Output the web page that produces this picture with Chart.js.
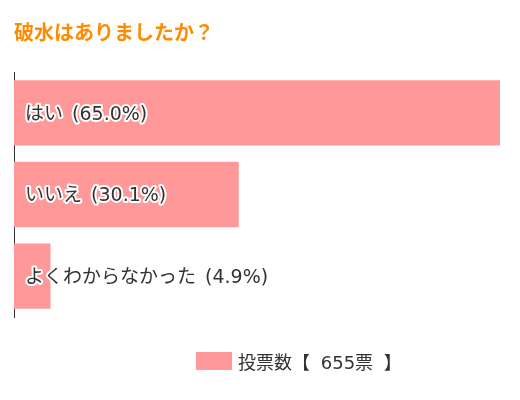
<!DOCTYPE html>
<html>
<head>
<meta charset="utf-8">
<script src="https://cdn.jsdelivr.net/npm/chart.js@4/dist/chart.umd.min.js"></script>
<style>
  html, body { margin: 0; padding: 0; background: #fff; }
  #wrap { position: relative; width: 520px; height: 400px; }
  #legend {
    position: absolute; left: 196px; top: 349px; height: 24px;
    display: flex; align-items: center;
    font: 18px "DejaVu Sans", "Noto Sans CJK JP", sans-serif; color: #333;
    word-spacing: 5px; white-space: pre;
  }
  #legend .box { width: 36px; height: 18px; background: #ff9999; margin-right: 6px; }
</style>
</head>
<body>
<div id="wrap">
  <canvas id="chart" width="520" height="400"></canvas>
  <div id="legend"><span class="box"></span><span id="legend-text"></span></div>
</div>
<script>
// 破水はありましたか？ - 投票結果
const answers = ['はい', 'いいえ', 'よくわからなかった'];
const votes = [426, 197, 32];
const percents = ['65.0', '30.1', '4.9'];
const totalVotes = 655;

const barColor = '#ff9999';

document.getElementById('legend-text').textContent = '投票数【 ' + totalVotes + '票 】';

// draw the answer text inside each bar
const barLabels = {
  id: 'barLabels',
  afterDatasetsDraw(chart) {
    const { ctx, chartArea } = chart;
    const meta = chart.getDatasetMeta(0);
    ctx.save();
    ctx.font = '19px "DejaVu Sans", "Noto Sans CJK JP", sans-serif';
    ctx.wordSpacing = '3px';
    ctx.textBaseline = 'middle';
    ctx.textAlign = 'left';
    ctx.lineJoin = 'round';
    ctx.lineWidth = 4;
    ctx.strokeStyle = '#fff';
    ctx.fillStyle = '#333';
    meta.data.forEach((bar, i) => {
      const text = answers[i] + ' (' + percents[i] + '%)';
      const x = chartArea.left + 11;
      ctx.strokeText(text, x, bar.y + 2);
      ctx.fillText(text, x, bar.y + 2);
    });
    ctx.restore();
  }
};

new Chart(document.getElementById('chart'), {
  type: 'bar',
  data: {
    labels: answers,
    datasets: [{
      label: '投票数',
      data: votes,
      backgroundColor: barColor,
      borderWidth: 0,
      barPercentage: 0.8,
      categoryPercentage: 1,
    }]
  },
  options: {
    indexAxis: 'y',
    responsive: false,
    animation: false,
    layout: { padding: { left: 14, right: 20, top: 0, bottom: 83 } },
    plugins: {
      legend: { display: false },
      tooltip: { enabled: false },
      title: {
        display: true,
        text: '破水はありましたか？',
        align: 'start',
        color: '#ff8c00',
        font: { family: '"Noto Sans CJK JP", sans-serif', size: 20, weight: 'bold' },
        padding: { top: 20, bottom: 28 },
      }
    },
    scales: {
      x: {
        display: false,
        min: 0,
        max: Math.max(...votes),
      },
      y: {
        grid: { display: false, drawTicks: false },
        ticks: { display: false },
        border: { display: true, color: '#333', width: 1 },
      }
    }
  },
  plugins: [barLabels]
});
</script>
</body>
</html>
